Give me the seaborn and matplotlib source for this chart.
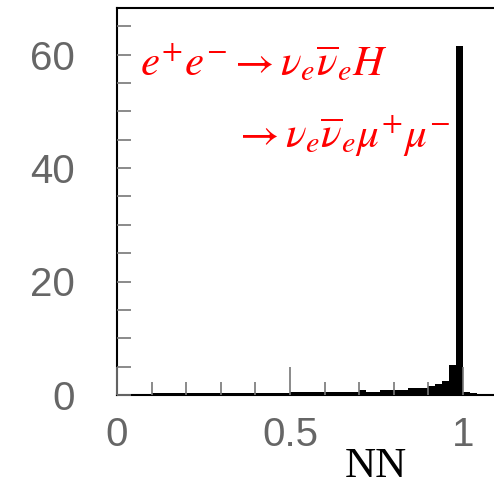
import numpy as np
import pandas as pd
import matplotlib
matplotlib.use("Agg")
import matplotlib.pyplot as plt
import seaborn as sns
from matplotlib.ticker import MultipleLocator, FixedLocator

# Bin edges (width 0.02) and per-bin contents
bin_lo = [0.10, 0.50, 0.70, 0.72, 0.76, 0.84, 0.90, 0.92, 0.94, 0.96, 0.98, 1.00, 1.02, 1.04]
bin_hi = [0.50, 0.70, 0.72, 0.76, 0.84, 0.90, 0.92, 0.94, 0.96, 0.98, 1.00, 1.02, 1.04, 1.08]
level  = [0.3, 0.5, 0.8, 0.5, 0.9, 1.2, 1.6, 2.0, 2.5, 5.2, 61.5, 0.6, 0.3, 0.1]

x_ticklabels = ["0", "0.5", "1"]
y_ticklabels = ["0", "20", "40", "60"]
label_line1 = r"$e^{+}e^{-}\rightarrow\nu_{e}\overline{\nu}_{e}H$"
label_line2 = r"$\rightarrow\nu_{e}\overline{\nu}_{e}\mu^{+}\mu^{-}$"

# expand to uniform 0.02 bins
edges = [round(0.02 * i, 4) for i in range(55)]
centers = [(a + b) / 2 for a, b in zip(edges[:-1], edges[1:])]
weights = []
for c in centers:
    w = 0.0
    for lo, hi, v in zip(bin_lo, bin_hi, level):
        if lo < c < hi:
            w = v
    weights.append(w)
df = pd.DataFrame({"NN": centers, "w": weights})

sns.set_style("ticks")
plt.rcParams["mathtext.fontset"] = "stix"
plt.rcParams["font.family"] = ["Liberation Sans", "DejaVu Sans"]

fig = plt.figure(figsize=(4.94, 4.87), dpi=100)
ax = fig.add_axes([117/494, 92/487, 377/494, 387/487])

sns.histplot(data=df, x="NN", weights="w", bins=edges, ax=ax, color="black",
             alpha=1.0, edgecolor="none", linewidth=0)

ax.set_xlim(0, 377/346)
ax.set_ylim(0, 387/5.675)
ax.set_ylabel("")
ax.set_xlabel("NN", family="Liberation Serif", fontsize=31, color="black")
ax.xaxis.set_label_coords(0.686, -0.135)

ax.xaxis.set_major_locator(FixedLocator([0, 0.5, 1]))
ax.set_xticklabels(x_ticklabels)
ax.xaxis.set_minor_locator(MultipleLocator(0.1))
ax.yaxis.set_major_locator(FixedLocator([0, 20, 40, 60]))
ax.set_yticklabels(y_ticklabels)
ax.yaxis.set_minor_locator(MultipleLocator(5))

ax.tick_params(axis="both", which="both", direction="in", color="#777777")
ax.tick_params(axis="x", which="major", length=20, width=1.2, labelsize=29, pad=15, labelcolor="#666666")
ax.tick_params(axis="x", which="minor", length=9.5, width=1.2)
ax.tick_params(axis="y", which="major", length=10, width=1.2, labelsize=29, pad=30, labelcolor="#666666")
ax.tick_params(axis="y", which="minor", length=10, width=1.2)
ax.tick_params(top=False, right=False, which="both")
ax.set_axisbelow(False)

for s in ["left", "bottom", "top"]:
    ax.spines[s].set_visible(True)
    ax.spines[s].set_color("black")
    ax.spines[s].set_linewidth(1.5)
ax.spines["right"].set_visible(False)

ax.text(23/377, (395-76)/387, label_line1, transform=ax.transAxes, color="red",
        fontsize=31, va="baseline", ha="left")
ax.text(116/377, (395-148)/387, label_line2, transform=ax.transAxes, color="red",
        fontsize=31, va="baseline", ha="left")

fig.savefig("out.png", dpi=100)
